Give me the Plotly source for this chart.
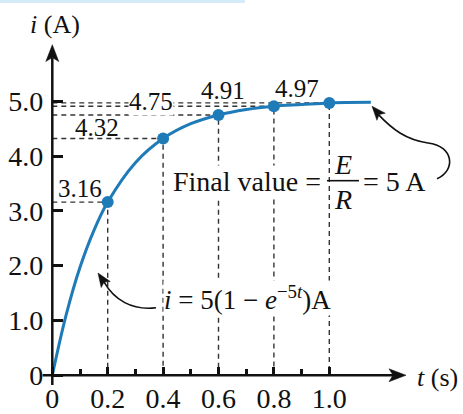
import math
import plotly.graph_objects as go

# ---------------- data ----------------
t_points = [0.2, 0.4, 0.6, 0.8, 1.0]
i_points = [3.16, 4.32, 4.75, 4.91, 4.97]
point_labels = ["3.16", "4.32", "4.75", "4.91", "4.97"]

# curve
t_curve = [0, 0.05, 0.1, 0.15, 0.2, 0.3, 0.4, 0.5, 0.6, 0.7, 0.8, 0.9, 1.0, 1.15]
i_curve = [0, 1.10, 1.97, 2.64, 3.16, 3.88, 4.32, 4.59, 4.75, 4.85, 4.91, 4.94, 4.97, 4.98]

x_tickvals = [0, 0.2, 0.4, 0.6, 0.8, 1.0]
x_ticktext = ["0", "0.2", "0.4", "0.6", "0.8", "1.0"]
x_minor = [0.1, 0.3, 0.5, 0.7, 0.9]
y_tickvals = [0, 1, 2, 3, 4, 5]
y_ticktext = ["0", "1.0", "2.0", "3.0", "4.0", "5.0"]

# ---------------- layout geometry ----------------
W, H = 463, 414
T_PX0, PX_PER_T = 52.3, 277.0
I_PX0, PX_PER_I = 378.0, 55.2
x_range = [-T_PX0 / PX_PER_T, (W - T_PX0) / PX_PER_T]
y_range = [-(H - I_PX0) / PX_PER_I, I_PX0 / PX_PER_I]

def px(x):
    return x / W

def py(y):
    return 1 - y / H

BLUE = "#1f7ab8"
INK = "#111111"
FONT = "Liberation Serif"

fig = go.Figure()

# dashed guide lines
gx, gy = [], []
for t, v in zip(t_points, i_points):
    gx += [0, t, t, None]
    gy += [v, v, 0, None]
fig.add_trace(go.Scatter(x=gx, y=gy, mode="lines", hoverinfo="skip",
                         line=dict(color="#333333", width=1.4, dash="5px,4px")))

# curve
fig.add_trace(go.Scatter(x=t_curve, y=i_curve, mode="lines",
                         line=dict(color=BLUE, width=3, shape="spline", smoothing=1.0)))
# points
fig.add_trace(go.Scatter(x=t_points, y=i_points, mode="markers",
                         marker=dict(color=BLUE, size=12)))

def path_paper(cmds):
    out = []
    for c in cmds:
        if isinstance(c, str):
            out.append(c)
        else:
            out.append(f"{px(c[0]):.5f},{py(c[1]):.5f}")
    return " ".join(out)

def dart(tip, frm, length, hw, notch):
    dx, dy = tip[0] - frm[0], tip[1] - frm[1]
    n = math.hypot(dx, dy)
    ux, uy = dx / n, dy / n
    nx, ny = -uy, ux
    bx, by = tip[0] - ux * length, tip[1] - uy * length
    p1 = (bx + nx * hw, by + ny * hw)
    p2 = (bx - nx * hw, by - ny * hw)
    pn = (tip[0] - ux * (length - notch), tip[1] - uy * (length - notch))
    return dict(type="path", xref="paper", yref="paper",
                path=path_paper(["M", tip, "L", p1, "L", pn, "L", p2, "Z"]),
                fillcolor=INK, line=dict(color=INK, width=0.5))

shapes = []
# axis lines (in data units) with arrowheads
shapes.append(dict(type="line", xref="x", yref="y", x0=-0.035, x1=1.23, y0=0, y1=0,
                   line=dict(color=INK, width=2.5)))
shapes.append(dict(type="line", xref="x", yref="y", x0=0, x1=0, y0=-0.18, y1=5.8,
                   line=dict(color=INK, width=2.5)))
shapes.append(dart((406, 378), (380, 378), 17, 6.5, 4))
shapes.append(dart((52.3, 45), (52.3, 80), 17, 6.5, 4))
# fraction bar
shapes.append(dict(type="line", xref="paper", yref="paper", x0=px(327), x1=px(359),
                   y0=py(182), y1=py(182), line=dict(color=INK, width=1.6)))
# curved pointer lines + heads
shapes.append(dict(type="path", xref="paper", yref="paper",
                   path=path_paper(["M", (156, 310), "C", (132, 313), (114, 302), (104, 284)]),
                   line=dict(color=INK, width=1.6)))
shapes.append(dart((98, 275), (108, 290), 14, 5.5, 3))
shapes.append(dict(type="path", xref="paper", yref="paper",
                   path=path_paper(["M", (378, 115), "C", (392, 130), (406, 141), (428, 144),
                                    "C", (454, 147), (456, 172), (437, 180)]),
                   line=dict(color=INK, width=1.6)))
shapes.append(dart((372, 107), (384, 121), 14, 5.5, 3))
# light band at top
shapes.append(dict(type="rect", xref="paper", yref="paper", x0=0, x1=px(245), y0=py(3), y1=1,
                   fillcolor="#d6ebf8", line=dict(width=0), layer="below"))

annotations = []
# value labels
label_pos = [(0.100, 3.41), (0.163, 4.53), (0.355, 4.99), (0.618, 5.19), (0.885, 5.23)]
for (lx, ly), txt in zip(label_pos, point_labels):
    annotations.append(dict(x=lx, y=ly, xref="x", yref="y", text=txt, showarrow=False,
                            xanchor="center", yanchor="middle",
                            font=dict(family=FONT, size=25, color=INK),
                            bgcolor="white" if txt == "4.75" else None, borderpad=0))

def note(x, y, text, size, xanchor="center", bg=None):
    annotations.append(dict(x=px(x), y=py(y), xref="paper", yref="paper", text=text,
                            showarrow=False, xanchor=xanchor, yanchor="middle",
                            bgcolor=bg, borderpad=0,
                            font=dict(family=FONT, size=size, color=INK)))

# axis titles
note(55, 25, "<i>i</i> (A)", 26)
note(416, 380, "<i>t</i> (s)", 26, xanchor="left")
# final value text
note(172, 183, "Final value =", 28, xanchor="left", bg="white")
note(343, 166, "<i>E</i>", 28)
note(343, 201, "<i>R</i>", 28)
note(362, 183, "= 5 A", 28, xanchor="left")
# formula
note(163, 300, "<i>i</i> = 5(1 − <i>e</i><sup>−5<i>t</i></sup>)A", 27, xanchor="left", bg="white")

fig.update_layout(
    width=W, height=H, margin=dict(l=0, r=0, t=0, b=0),
    paper_bgcolor="white", plot_bgcolor="white", showlegend=False,
    annotations=annotations, shapes=shapes,
    xaxis=dict(range=x_range, domain=[0, 1], anchor="free", position=(H - I_PX0) / H,
               showgrid=False, zeroline=False, showline=False,
               tickmode="array", tickvals=x_tickvals, ticktext=x_ticktext,
               ticks="inside", ticklen=8, tickwidth=2.5, tickcolor=INK,
               minor=dict(tickmode="array", tickvals=x_minor, ticks="inside", ticklen=6,
                          tickwidth=2.5, tickcolor=INK),
               ticklabelstandoff=4,
               tickfont=dict(family=FONT, size=28, color=INK), fixedrange=True),
    yaxis=dict(range=y_range, domain=[0, 1], anchor="free", position=T_PX0 / W,
               showgrid=False, zeroline=False, showline=False,
               tickmode="array", tickvals=y_tickvals, ticktext=y_ticktext,
               ticks="inside", ticklen=10, tickwidth=2.5, tickcolor=INK,
               ticklabelstandoff=9,
               tickfont=dict(family=FONT, size=28, color=INK), fixedrange=True),
)

fig.write_html("out.html", config={"displayModeBar": False},
               post_script="document.body.style.margin='0';document.body.style.padding='0';")
